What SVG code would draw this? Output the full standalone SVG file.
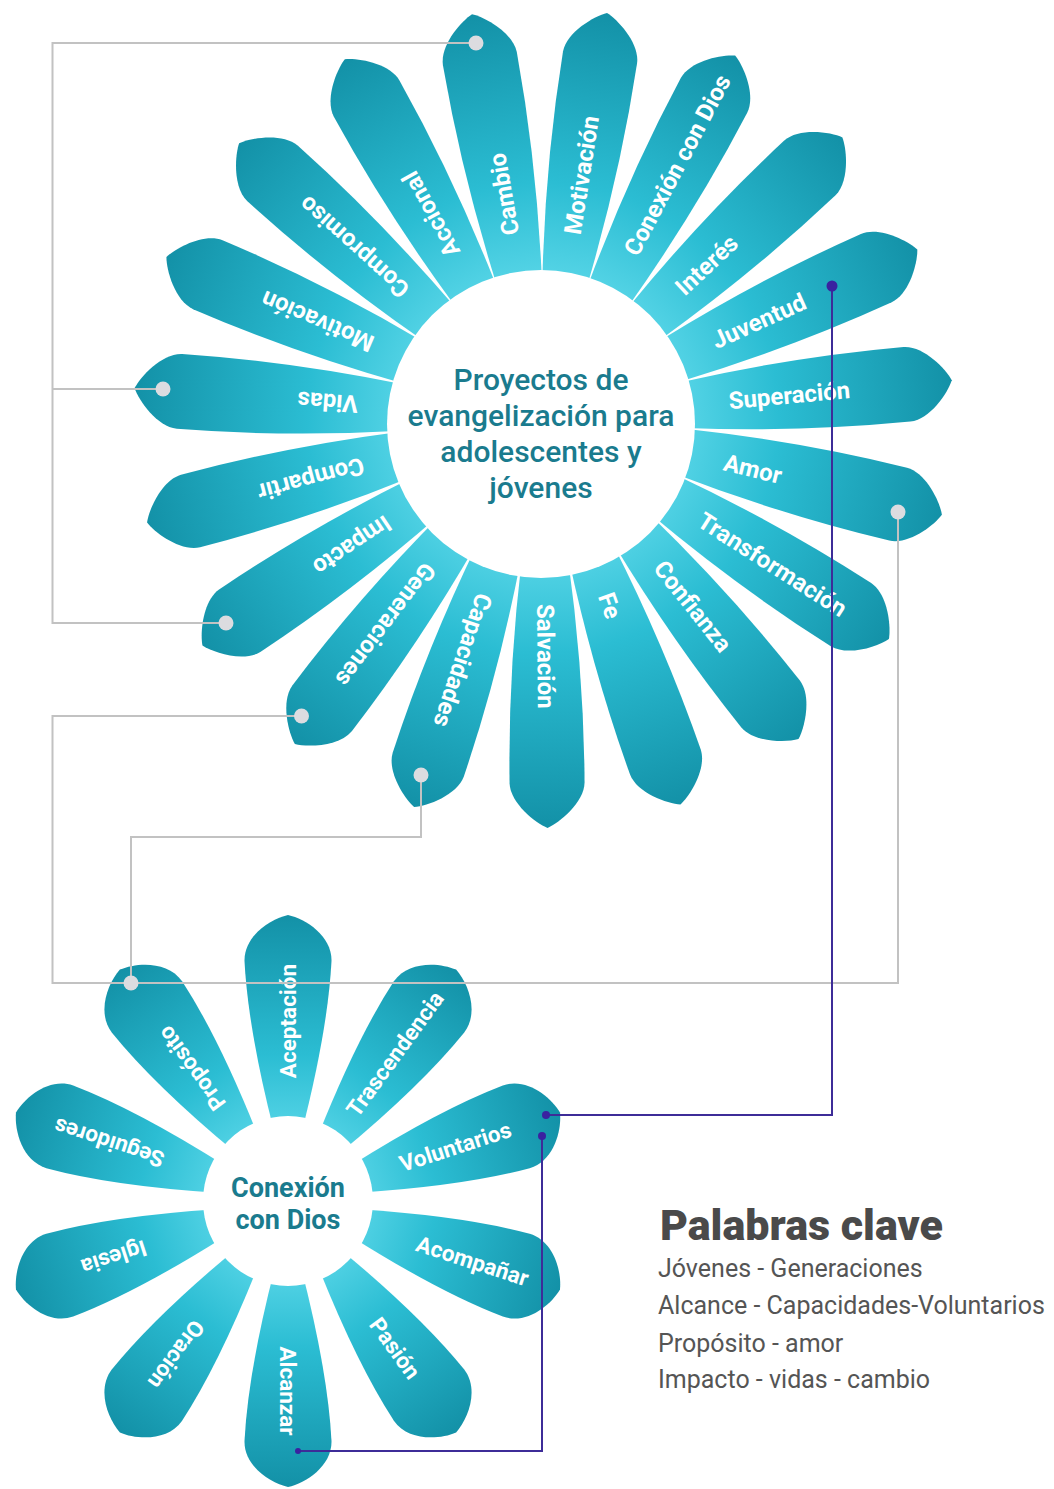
<svg xmlns="http://www.w3.org/2000/svg" xmlns:xlink="http://www.w3.org/1999/xlink" width="1054" height="1489" viewBox="0 0 1054 1489">
<style>
.pt{font-family:Roboto,"Liberation Sans",sans-serif;font-weight:700;font-size:24px;fill:#ffffff}
.ps{font-family:Roboto,"Liberation Sans",sans-serif;font-weight:700;font-size:22.5px;fill:#ffffff}
.ct{font-family:Roboto,"Liberation Sans",sans-serif;font-weight:500;font-size:30px;fill:#1a7b8e;text-anchor:middle}
.cs{font-family:Roboto,"Liberation Sans",sans-serif;font-weight:700;font-size:27px;fill:#1a7b8e;text-anchor:middle}
.gl{fill:none;stroke:#c2c2c2;stroke-width:2}
.gd{fill:#dcdce0}
.pl{fill:none;stroke:#3d2c98;stroke-width:2}
.pd{fill:#3a22a0}
.lh{font-family:Roboto,"Liberation Sans",sans-serif;font-weight:900;font-size:43px;fill:#4a4a4a}
.li{font-family:Roboto,"Liberation Sans",sans-serif;font-weight:400;font-size:25px;fill:#555555}
</style>
<defs>
<linearGradient id="gb" x1="0" y1="0" x2="1" y2="0">
<stop offset="0" stop-color="#55d4e6"/>
<stop offset="0.35" stop-color="#2bbdd3"/>
<stop offset="1" stop-color="#1391a7"/>
</linearGradient>
<path id="bigPetal" d="M140,-23 Q255,-38 365,-37.5 C385,-37 405,-12 410,0 C405,12 385,37 365,37.5 Q255,38 140,23 Z" fill="url(#gb)"/>
<path id="smallPetal" d="M70,-14 Q172,-40 240,-43.5 C265,-44 282,-18 286,0 C282,18 265,44 240,43.5 Q172,40 70,14 Z" fill="url(#gb)"/>
</defs>
<rect width="1054" height="1489" fill="#ffffff"/>

<g id="flower-main">
<g id="p-salvacion" transform="translate(543.5 418) rotate(89.44)"><use xlink:href="#bigPetal"/><text class="pt" x="186" y="0" dy="0.35em">Salvación</text></g>
<g id="p-capacidades" transform="translate(543.5 418) rotate(108.39)"><use xlink:href="#bigPetal"/><text class="pt" x="186" y="0" dy="0.35em">Capacidades</text></g>
<g id="p-generaciones" transform="translate(543.5 418) rotate(127.33)"><use xlink:href="#bigPetal"/><text class="pt" x="186" y="0" dy="0.35em">Generaciones</text></g>
<g id="p-impacto" transform="translate(543.5 418) rotate(146.28)"><use xlink:href="#bigPetal"/><text class="pt" x="186" y="0" dy="0.35em">Impacto</text></g>
<g id="p-compartir" transform="translate(543.5 418) rotate(165.23)"><use xlink:href="#bigPetal"/><text class="pt" x="186" y="0" dy="0.35em">Compartir</text></g>
<g id="p-vidas" transform="translate(543.5 418) rotate(184.18)"><use xlink:href="#bigPetal"/><text class="pt" x="186" y="0" dy="0.35em">Vidas</text></g>
<g id="p-motivacion2" transform="translate(543.5 418) rotate(203.12)"><use xlink:href="#bigPetal"/><text class="pt" x="186" y="0" dy="0.35em">Motivación</text></g>
<g id="p-compromiso" transform="translate(543.5 418) rotate(222.07)"><use xlink:href="#bigPetal"/><text class="pt" x="186" y="0" dy="0.35em">Compromiso</text></g>
<g id="p-accional" transform="translate(543.5 418) rotate(241.02)"><use xlink:href="#bigPetal"/><text class="pt" x="186" y="0" dy="0.35em">Accional</text></g>
<g id="p-cambio" transform="translate(543.5 418) rotate(259.96)"><use xlink:href="#bigPetal"/><text class="pt" x="186" y="0" dy="0.35em">Cambio</text></g>
<g id="p-motivacion" transform="translate(543.5 418) rotate(278.91)"><use xlink:href="#bigPetal"/><text class="pt" x="186" y="0" dy="0.35em">Motivación</text></g>
<g id="p-conexion" transform="translate(543.5 418) rotate(297.86)"><use xlink:href="#bigPetal"/><text class="pt" x="186" y="0" dy="0.35em">Conexión con Dios</text></g>
<g id="p-interes" transform="translate(543.5 418) rotate(316.81)"><use xlink:href="#bigPetal"/><text class="pt" x="186" y="0" dy="0.35em">Interés</text></g>
<g id="p-juventud" transform="translate(543.5 418) rotate(335.75)"><use xlink:href="#bigPetal"/><text class="pt" x="186" y="0" dy="0.35em">Juventud</text></g>
<g id="p-superacion" transform="translate(543.5 418) rotate(354.70)"><use xlink:href="#bigPetal"/><text class="pt" x="186" y="0" dy="0.35em">Superación</text></g>
<g id="p-amor" transform="translate(543.5 418) rotate(13.65)"><use xlink:href="#bigPetal"/><text class="pt" x="186" y="0" dy="0.35em">Amor</text></g>
<g id="p-transformacion" transform="translate(543.5 418) rotate(32.60)"><use xlink:href="#bigPetal"/><text class="pt" x="186" y="0" dy="0.35em">Transformación</text></g>
<g id="p-confianza" transform="translate(543.5 418) rotate(51.54)"><use xlink:href="#bigPetal"/><text class="pt" x="186" y="0" dy="0.35em">Confianza</text></g>
<g id="p-fe" transform="translate(543.5 418) rotate(70.49)"><use xlink:href="#bigPetal"/><text class="pt" x="186" y="0" dy="0.35em">Fe</text></g>
<g id="center-main">
<circle cx="541" cy="424" r="154" fill="#ffffff"/>
<text class="ct" x="541" y="390">Proyectos de</text>
<text class="ct" x="541" y="426">evangelización para</text>
<text class="ct" x="541" y="462">adolescentes y</text>
<text class="ct" x="541" y="498">jóvenes</text>
</g>
</g>

<g id="flower-small">
<g id="s-aceptacion" transform="translate(288 1201) rotate(-90)"><use xlink:href="#smallPetal"/><text class="ps" x="180" y="0" dy="0.35em" text-anchor="middle">Aceptación</text></g>
<g id="s-trascendencia" transform="translate(288 1201) rotate(-54)"><use xlink:href="#smallPetal"/><text class="ps" x="182" y="0" dy="0.35em" text-anchor="middle">Trascendencia</text></g>
<g id="s-voluntarios" transform="translate(288 1201) rotate(-18)"><use xlink:href="#smallPetal"/><text class="ps" x="176" y="0" dy="0.35em" text-anchor="middle">Voluntarios</text></g>
<g id="s-acompanar" transform="translate(288 1201) rotate(18)"><use xlink:href="#smallPetal"/><text class="ps" x="194" y="0" dy="0.35em" text-anchor="middle">Acompañar</text></g>
<g id="s-pasion" transform="translate(288 1201) rotate(54)"><use xlink:href="#smallPetal"/><text class="ps" x="182" y="0" dy="0.35em" text-anchor="middle">Pasión</text></g>
<g id="s-alcanzar" transform="translate(288 1201) rotate(90)"><use xlink:href="#smallPetal"/><text class="ps" x="190" y="0" dy="0.35em" text-anchor="middle">Alcanzar</text></g>
<g id="s-oracion" transform="translate(288 1201) rotate(126)"><use xlink:href="#smallPetal"/><text class="ps" x="190" y="0" dy="0.35em" text-anchor="middle">Oración</text></g>
<g id="s-iglesia" transform="translate(288 1201) rotate(162)"><use xlink:href="#smallPetal"/><text class="ps" x="183" y="0" dy="0.35em" text-anchor="middle">Iglesia</text></g>
<g id="s-seguidores" transform="translate(288 1201) rotate(198)"><use xlink:href="#smallPetal"/><text class="ps" x="188" y="0" dy="0.35em" text-anchor="middle">Seguidores</text></g>
<g id="s-proposito" transform="translate(288 1201) rotate(234)"><use xlink:href="#smallPetal"/><text class="ps" x="164" y="0" dy="0.35em" text-anchor="middle">Propósito</text></g>
<g id="center-small">
<circle cx="288" cy="1201" r="85" fill="#ffffff"/>
<text class="cs" x="288" y="1197">Conexión</text>
<text class="cs" x="288" y="1229">con Dios</text>
</g>
</g>

<g id="connectors">
<path class="gl" d="M476,43 H52.5 V623 H226"/>
<path class="gl" d="M52.5,389 H163"/>
<path class="gl" d="M301.5,716 H52.5 V983 H898 V512"/>
<path class="gl" d="M421,775 V837 H131 V983"/>
<circle class="gd" cx="476" cy="43" r="7.5"/>
<circle class="gd" cx="163" cy="389" r="7.5"/>
<circle class="gd" cx="226" cy="623" r="7.5"/>
<circle class="gd" cx="301.5" cy="716" r="7.5"/>
<circle class="gd" cx="421" cy="775" r="7.5"/>
<circle class="gd" cx="131" cy="983" r="7.5"/>
<circle class="gd" cx="898" cy="512" r="7.5"/>
<path class="pl" d="M832,286 V1115 H546"/>
<path class="pl" d="M542,1136 V1451 H298"/>
<circle class="pd" cx="832" cy="286" r="5.5"/>
<circle class="pd" cx="546" cy="1115" r="4"/>
<circle class="pd" cx="542" cy="1136" r="4"/>
<circle class="pd" cx="298" cy="1451" r="3"/>
</g>

<g id="legend">
<text class="lh" x="660" y="1240">Palabras clave</text>
<text class="li" x="658" y="1277">Jóvenes - Generaciones</text>
<text class="li" x="658" y="1314">Alcance - Capacidades-Voluntarios</text>
<text class="li" x="658" y="1352">Propósito - amor</text>
<text class="li" x="658" y="1388">Impacto - vidas - cambio</text>
</g>
</svg>
